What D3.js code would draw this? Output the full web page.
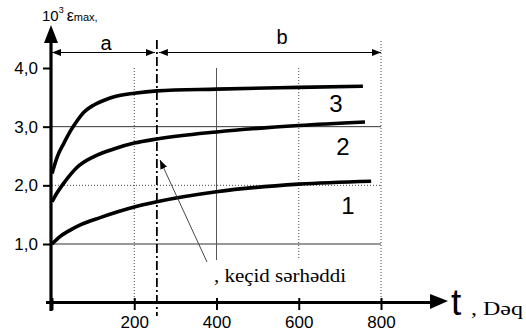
<!DOCTYPE html>
<html>
<head>
<meta charset="utf-8">
<script src="https://cdn.jsdelivr.net/npm/d3@7"></script>
<style>
  body { margin: 0; background: #fff; }
  svg { display: block; }
  .tick text { font-family: "Liberation Sans", Arial, sans-serif; font-size: 17px; fill: #000; }
</style>
</head>
<body>
<div class="chart"></div>
<script>
// t, deq
var xTicks = [0, 200, 400, 600, 800];
var yTicks = [1, 2, 3, 4];

// curve 1
var t1 = [0, 20, 40, 70, 117, 200, 255, 400, 600, 776];
var e1 = [1.0, 1.13, 1.22, 1.33, 1.45, 1.63, 1.72, 1.89, 2.02, 2.07];
// curve 2
var t2 = [0, 12, 32, 60, 102, 150, 200, 255, 400, 600, 761];
var e2 = [1.72, 1.87, 2.07, 2.30, 2.49, 2.62, 2.72, 2.79, 2.91, 3.02, 3.08];
// curve 3
var t3 = [0, 13, 29, 46, 62, 78, 102, 127, 151, 200, 255, 400, 600, 756];
var e3 = [2.20, 2.49, 2.72, 2.94, 3.11, 3.25, 3.37, 3.45, 3.51, 3.57, 3.61, 3.64, 3.67, 3.69];

var curveNames = ["1", "2", "3"];
var boundaryT = 255;

var width = 526, height = 335;

var x = d3.scaleLinear().domain([0, 800]).range([52, 381]);
var y = d3.scaleLinear().domain([1, 4]).range([244, 68]);

var svg = d3.select(".chart").append("svg")
    .attr("width", width)
    .attr("height", height);

var defs = svg.append("defs");
defs.append("marker").attr("id", "ah").attr("viewBox", "0 0 10 10")
    .attr("refX", 10).attr("refY", 5).attr("markerWidth", 9).attr("markerHeight", 9)
    .attr("markerUnits", "userSpaceOnUse").attr("orient", "auto-start-reverse")
  .append("path").attr("d", "M0,1 L10,5 L0,9 Z").attr("fill", "#000");

var grid = svg.append("g");

// horizontal guides
grid.append("line").attr("x1", x(0)).attr("x2", x(800))
    .attr("y1", y(1)).attr("y2", y(1)).attr("stroke", "#333").attr("stroke-width", 1);
grid.append("line").attr("x1", x(0)).attr("x2", x(800))
    .attr("y1", y(3)).attr("y2", y(3)).attr("stroke", "#333").attr("stroke-width", 1);
grid.append("line").attr("x1", x(0)).attr("x2", x(800))
    .attr("y1", y(2)).attr("y2", y(2)).attr("stroke", "#444").attr("stroke-width", 1)
    .attr("stroke-dasharray", "1,2");

// vertical guides
grid.append("line").attr("x1", x(200)).attr("x2", x(200))
    .attr("y1", y(4)).attr("y2", y(0)).attr("stroke", "#444").attr("stroke-dasharray", "1,2");
grid.append("line").attr("x1", x(400)).attr("x2", x(400))
    .attr("y1", y(4)).attr("y2", 260).attr("stroke", "#555").attr("stroke-width", 1);
grid.append("line").attr("x1", x(600)).attr("x2", x(600))
    .attr("y1", y(4)).attr("y2", 260).attr("stroke", "#444").attr("stroke-dasharray", "1,2");
grid.append("line").attr("x1", x(800)).attr("x2", x(800))
    .attr("y1", 41).attr("y2", y(0)).attr("stroke", "#444").attr("stroke-dasharray", "1,2");

// boundary a|b
grid.append("line").attr("x1", x(boundaryT)).attr("x2", x(boundaryT))
    .attr("y1", 40).attr("y2", 316).attr("stroke", "#000").attr("stroke-width", 1.8)
    .attr("stroke-dasharray", "9,3,2,3");

svg.append("line").attr("x1", x(0)).attr("x2", x(boundaryT) - 2)
    .attr("y1", 52.5).attr("y2", 52.5).attr("stroke", "#000").attr("stroke-width", 1.2)
    .attr("marker-start", "url(#ah)").attr("marker-end", "url(#ah)");
svg.append("line").attr("x1", x(boundaryT) + 2).attr("x2", x(800))
    .attr("y1", 52.5).attr("y2", 52.5).attr("stroke", "#000").attr("stroke-width", 1.2)
    .attr("marker-start", "url(#ah)").attr("marker-end", "url(#ah)");

svg.append("text").attr("x", 106).attr("y", 50).attr("text-anchor", "middle")
    .style("font-family", "Liberation Sans, Arial, sans-serif").style("font-size", "20px").text("a");
svg.append("text").attr("x", 282).attr("y", 44).attr("text-anchor", "middle")
    .style("font-family", "Liberation Sans, Arial, sans-serif").style("font-size", "20px").text("b");

// curves
var line = d3.line()
    .x(function(d) { return x(d[0]); })
    .y(function(d) { return y(d[1]); })
    .curve(d3.curveMonotoneX);

var series = [d3.zip(t1, e1), d3.zip(t2, e2), d3.zip(t3, e3)];

svg.append("g").selectAll("path")
    .data(series).enter()
    .append("path")
    .attr("d", line)
    .attr("fill", "none")
    .attr("stroke", "#000")
    .attr("stroke-width", 3.6)
    .attr("stroke-linecap", "butt");

var labelPos = [[348, 214], [343, 155], [336, 112]];
svg.append("g").selectAll("text")
    .data(curveNames).enter()
    .append("text")
    .attr("x", function(d, i) { return labelPos[i][0]; })
    .attr("y", function(d, i) { return labelPos[i][1]; })
    .attr("text-anchor", "middle")
    .style("font-family", "Liberation Sans, Arial, sans-serif")
    .style("font-size", "24px")
    .text(function(d) { return d; });

// leader to boundary
svg.append("line").attr("x1", 207).attr("y1", 262).attr("x2", 160).attr("y2", 160)
    .attr("stroke", "#333").attr("stroke-width", 0.9).attr("marker-end", "url(#ah)");
svg.append("text").attr("x", 214).attr("y", 282)
    .attr("textLength", 132).attr("lengthAdjust", "spacingAndGlyphs")
    .style("font-family", "Liberation Serif, Times New Roman, serif").style("font-size", "19px")
    .text(", keçid sərhəddi");

// axes
var fmt = function(d) { return d3.format(".1f")(d).replace(".", ","); };

var yAxis = d3.axisLeft(y).tickValues(yTicks).tickFormat(fmt).tickSize(8).tickPadding(5);
var gy = svg.append("g").attr("transform", "translate(51,0)").call(yAxis);
gy.select(".domain").remove();
gy.selectAll(".tick line").attr("stroke", "#000").attr("stroke-width", 2);

var xAxis = d3.axisBottom(x).tickValues(xTicks)
    .tickFormat(function(d) { return d === 0 ? "" : d; }).tickSize(8).tickPadding(6);
var gx = svg.append("g").attr("transform", "translate(0,302)").call(xAxis);
gx.select(".domain").remove();
gx.selectAll(".tick line").attr("stroke", "#000").attr("stroke-width", 2).attr("y1", -4);

svg.append("line").attr("x1", 51).attr("x2", 51).attr("y1", 311).attr("y2", 30)
    .attr("stroke", "#000").attr("stroke-width", 3.2);
svg.append("path").attr("d", "M51,25 L58,43 L44,43 Z").attr("fill", "#000");
svg.append("line").attr("x1", 46).attr("x2", 435).attr("y1", 302.5).attr("y2", 302.5)
    .attr("stroke", "#000").attr("stroke-width", 3.2);
svg.append("path").attr("d", "M448,301 L430,294 L430,309 Z").attr("fill", "#000");

svg.append("text").attr("x", 451).attr("y", 315)
    .style("font-family", "Liberation Sans, Arial, sans-serif").style("font-size", "37px").text("t");
svg.append("text").attr("x", 471).attr("y", 315)
    .attr("textLength", 52).attr("lengthAdjust", "spacingAndGlyphs")
    .style("font-family", "Liberation Serif, Times New Roman, serif").style("font-size", "19px").text(", Dəq");

var yl = svg.append("text").attr("x", 42).attr("y", 21)
    .style("font-family", "Liberation Sans, Arial, sans-serif").style("font-size", "15px");
yl.append("tspan").text("10");
yl.append("tspan").attr("dy", -8).style("font-size", "9px").text("3");
yl.append("tspan").attr("dy", 8).attr("dx", 3).style("font-size", "16px").text("ε");
yl.append("tspan").style("font-size", "11px").text("max,");
</script>
</body>
</html>
